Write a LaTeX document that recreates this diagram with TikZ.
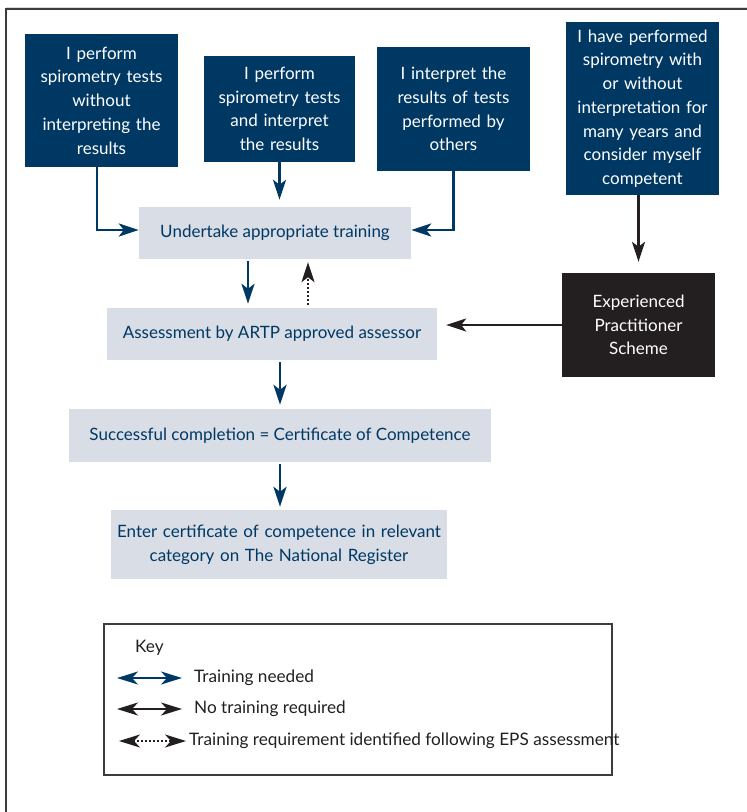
\documentclass[tikz,border=0pt]{standalone}
\usepackage{fontspec}
\setmainfont{Lato}
\usetikzlibrary{arrows.meta}
\definecolor{navy}{RGB}{0,56,100}
\definecolor{pale}{RGB}{217,221,230}
\definecolor{blk}{RGB}{35,31,32}
\definecolor{framec}{RGB}{60,60,60}
\begin{document}
\begin{tikzpicture}[x=1pt,y=-1pt,
  dark/.style={rectangle, fill=navy, text=white, align=center, inner sep=0pt, font=\fontsize{17}{23.7}\selectfont},
  light/.style={rectangle, fill=pale, text=navy, align=center, inner sep=0pt, font=\fontsize{17}{23.7}\selectfont},
  blackbox/.style={rectangle, fill=blk, text=white, align=center, inner sep=0pt, font=\fontsize{17}{23.7}\selectfont},
  navyarrow/.style={draw=navy, line width=2.6pt, -{Stealth[length=20pt,width=13pt,inset=5pt]}},
  blackarrow/.style={draw=blk, line width=2.2pt, -{Stealth[length=20pt,width=13pt,inset=5pt]}},
  dotarrow/.style={draw=blk, line width=2pt, dotted, -{Stealth[length=20pt,width=13pt,inset=5pt,sep=0pt]}},
  keyarrow/.style={line width=2pt, >={Stealth[length=21pt,width=13pt,inset=6pt]}, <->},
  keytext/.style={anchor=west, inner sep=0pt, text=blk, font=\fontsize{17.2}{20}\selectfont},
]
\useasboundingbox (0,0) rectangle (747,812);
\draw[framec, line width=1.6pt] (6,830) -- (6,9) -- (760,9);
\draw[gray!30, line width=1pt] (6,7.5) -- (760,7.5);

\node[dark, minimum width=153pt, minimum height=133pt, text width=150pt] (b1) at (101.5,100.5)
  {I perform\\spirometry tests\\without\\interpreting the\\results};
\node[dark, minimum width=151pt, minimum height=106pt, text width=148pt] (b2) at (279.5,109)
  {I perform\\spirometry tests\\and interpret\\the results};
\node[dark, minimum width=153pt, minimum height=124pt, text width=150pt] (b3) at (453.5,109)
  {I interpret the\\results of tests\\performed by\\others};
\node[dark, minimum width=153pt, minimum height=173pt, text width=150pt] (b4) at (642.5,108.5)
  {I have performed\\spirometry with\\or without\\interpretation for\\many years and\\consider myself\\competent};

\node[light, minimum width=272pt, minimum height=52pt] (under) at (275,233)
  {Undertake appropriate training};
\node[light, minimum width=330pt, minimum height=52pt] (assess) at (272,334)
  {Assessment by ARTP approved assessor};
\node[light, minimum width=422pt, minimum height=53pt] (succ) at (280,435.5)
  {Successful completion = Certificate of Competence};
\node[light, minimum width=336pt, minimum height=69pt, text width=330pt] (enter) at (279,544.5)
  {Enter certificate of competence in relevant\\category on The National Register};
\node[blackbox, minimum width=153pt, minimum height=104pt, text width=150pt] (exp) at (638.5,325)
  {Experienced\\Practitioner\\Scheme};

% connectors
\draw[navyarrow] ([xshift=-4.5pt]b1.south) |- ([yshift=3pt]under.west);
\draw[navyarrow, shorten >=7pt] (b2.south) -- (b2.south |- under.north);
\draw[navyarrow] (b3.south) |- ([yshift=3pt]under.east);
\draw[navyarrow, shorten <=2pt, shorten >=4pt] ([xshift=-27pt]under.south) -- ([xshift=-27pt]under.south |- assess.north);
\draw[dotarrow, shorten <=3pt, shorten >=3pt] ([xshift=36pt]assess.north) -- ([xshift=36pt]assess.north |- under.south);
\draw[blackarrow, shorten >=9pt] (exp.west) -- (exp.west -| assess.east);
\draw[blackarrow, shorten >=11pt] (b4.south -| exp.north) -- (exp.north);
\draw[navyarrow, shorten <=2pt, shorten >=4pt] (assess.south -| succ.north) -- (succ.north);
\draw[navyarrow, shorten <=2pt, shorten >=3pt] (succ.south) -- (succ.south |- enter.north);

% key
\draw[framec, line width=1.2pt] (104,624) rectangle (612,775);
\node[keytext] (keyt) at (135,648) {Key};
\coordinate (k1a) at (117,678); \coordinate (k1b) at (182,678);
\coordinate (k2a) at (117,709); \coordinate (k2b) at (182,709);
\coordinate (k3a) at (119,741); \coordinate (k3b) at (186,741);
\draw[keyarrow, draw=navy] (k1a) -- (k1b);
\draw[keyarrow, draw=blk] (k2a) -- (k2b);
\draw[keyarrow, draw=blk, dotted] (k3a) -- (k3b);
\node[keytext] (kt1) at (194,678) {Training needed};
\node[keytext] (kt2) at (194,709) {No training required};
\node[keytext] (kt3) at (189,741) {Training requirement identified following EPS assessment};
\end{tikzpicture}
\end{document}
